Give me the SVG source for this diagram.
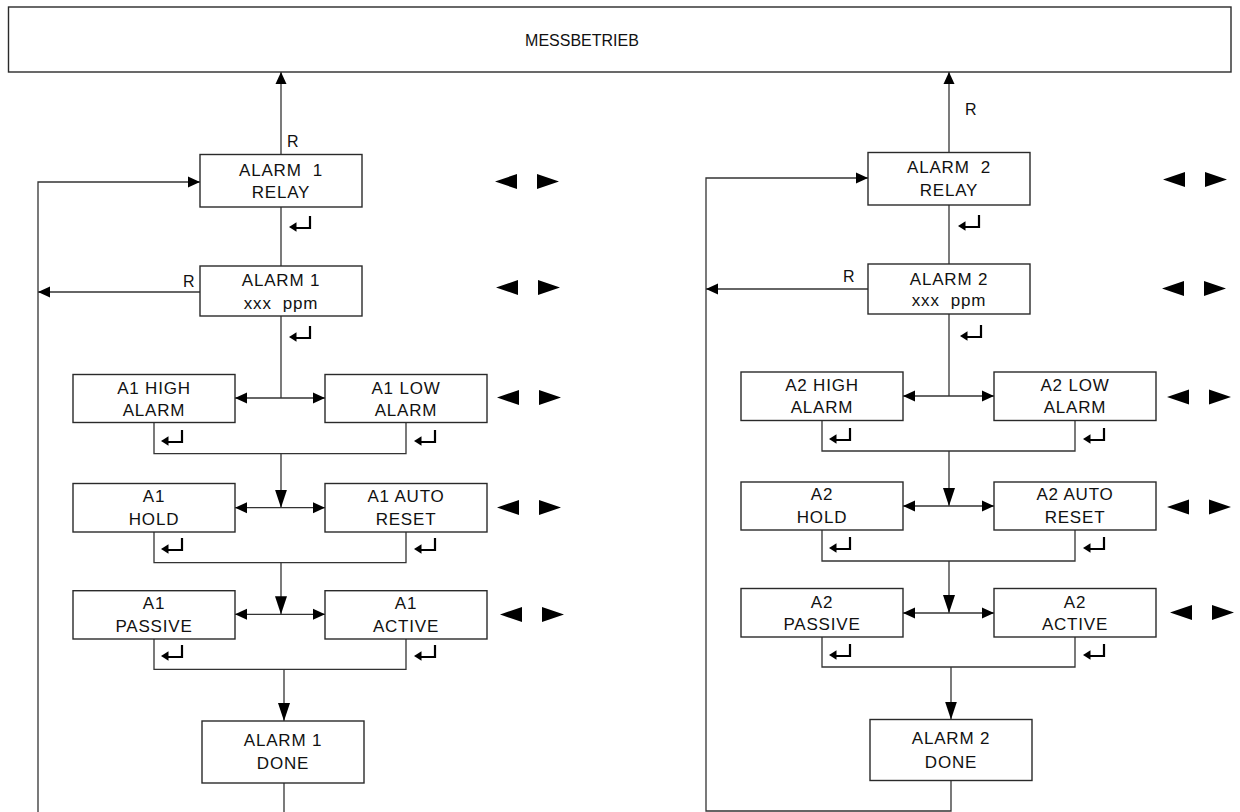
<svg xmlns="http://www.w3.org/2000/svg" xmlns:xlink="http://www.w3.org/1999/xlink" width="1240" height="812" viewBox="0 0 1240 812">
  <style>
    .box { fill: #ffffff; stroke: #2a2a2a; stroke-width: 1.4; }
    .t { font-family: "Liberation Sans", Arial, sans-serif; font-size: 17px; letter-spacing: 0.8px; text-anchor: middle; fill: #111111; white-space: pre; }
    .r { font-family: "Liberation Sans", Arial, sans-serif; font-size: 16px; fill: #111111; }
    .ln { fill: none; stroke: #333333; stroke-width: 1.3; }
    .a { marker-end: url(#ah); }
    .ad { marker-end: url(#ahL); }
  </style>
  <defs>
    <marker id="ah" markerUnits="userSpaceOnUse" markerWidth="12" markerHeight="12" refX="12" refY="6" orient="auto">
      <path d="M0,0.5 L12,6 L0,11.5 Z" fill="#000000"/>
    </marker>
    <marker id="ahL" markerUnits="userSpaceOnUse" markerWidth="18" markerHeight="13" refX="18" refY="6.5" orient="auto">
      <path d="M0,0.5 L18,6.5 L0,12.5 Z" fill="#000000"/>
    </marker>
    <!-- enter key symbol -->
    <g id="ret">
      <path d="M21,0 V12 H6" fill="none" stroke="#000000" stroke-width="2.2"/>
      <polygon points="0,11 7.5,6.3 7.5,15.7" fill="#000000"/>
    </g>
    <!-- left / right keys -->
    <g id="nav" fill="#000000">
      <polygon points="0,7.5 22,0 22,15"/>
      <polygon points="42,0 64,7.5 42,15"/>
    </g>
  </defs>

  <rect width="1240" height="812" fill="#ffffff"/>

  <g id="connectors">
    <!-- channel 1 -->
    <path class="ln a" d="M281,154.5 V72"/>
    <path class="ln" d="M281,207 V266"/>
    <path class="ln a" d="M200,292 H38"/>
    <path class="ln a" d="M38,812 V182 H200"/>
    <path class="ln" d="M281,316 V398"/>
    <path class="ln a" d="M281,398 H235"/>
    <path class="ln a" d="M281,398 H325"/>
    <path class="ln" d="M154,422.5 V453.7 H406 V422.5"/>
    <path class="ln ad" d="M281,453.7 V507.7"/>
    <path class="ln a" d="M281,507.7 H235"/>
    <path class="ln a" d="M281,507.7 H325"/>
    <path class="ln" d="M154,532 V562.7 H406 V532"/>
    <path class="ln ad" d="M281,562.7 V614.3"/>
    <path class="ln a" d="M281,614.3 H235"/>
    <path class="ln a" d="M281,614.3 H325"/>
    <path class="ln" d="M154,639 V669.3 H406 V639"/>
    <path class="ln ad" d="M284,669.3 V721"/>
    <path class="ln" d="M284,783 V812"/>
    <!-- channel 2 -->
    <path class="ln a" d="M949,152.5 V72"/>
    <path class="ln" d="M949,205 V264"/>
    <path class="ln a" d="M868,289 H706"/>
    <path class="ln a" d="M951,780.5 V811 H706 V178 H868"/>
    <path class="ln" d="M949,314 V396"/>
    <path class="ln a" d="M949,396 H903"/>
    <path class="ln a" d="M949,396 H994"/>
    <path class="ln" d="M822,420.5 V451 H1075 V420.5"/>
    <path class="ln ad" d="M949,451 V506"/>
    <path class="ln a" d="M949,506 H903"/>
    <path class="ln a" d="M949,506 H994"/>
    <path class="ln" d="M822,530 V561 H1075 V530"/>
    <path class="ln ad" d="M949,561 V613"/>
    <path class="ln a" d="M949,613 H903"/>
    <path class="ln a" d="M949,613 H994"/>
    <path class="ln" d="M822,637 V667 H1075 V637"/>
    <path class="ln ad" d="M951,667 V719.5"/>
  </g>

  <g id="labels">
    <text class="r" x="287" y="147">R</text>
    <text class="r" x="183" y="287">R</text>
    <text class="r" x="965" y="115">R</text>
    <text class="r" x="843" y="282">R</text>
  </g>

  <g id="messbetrieb">
    <rect class="box" x="8.5" y="7" width="1222.5" height="65"/>
    <text class="r" x="582" y="46" text-anchor="middle" font-size="16.5">MESSBETRIEB</text>
  </g>

  <!-- channel 1 nodes -->
  <g id="alarm1-relay">
    <rect class="box" x="200" y="154.5" width="162" height="52.5"/>
    <text class="t" x="281" y="176">ALARM  1</text>
    <text class="t" x="281" y="198">RELAY</text>
  </g>
  <g id="alarm1-ppm">
    <rect class="box" x="200" y="266" width="162" height="50"/>
    <text class="t" x="281" y="286">ALARM 1</text>
    <text class="t" x="281" y="309">xxx  ppm</text>
  </g>
  <g id="a1-high">
    <rect class="box" x="73" y="374.5" width="162" height="48"/>
    <text class="t" x="154" y="393.5">A1 HIGH</text>
    <text class="t" x="154" y="416">ALARM</text>
  </g>
  <g id="a1-low">
    <rect class="box" x="325" y="374.5" width="162" height="48"/>
    <text class="t" x="406" y="393.5">A1 LOW</text>
    <text class="t" x="406" y="416">ALARM</text>
  </g>
  <g id="a1-hold">
    <rect class="box" x="73" y="483.5" width="162" height="48.5"/>
    <text class="t" x="154" y="502">A1</text>
    <text class="t" x="154" y="524.5">HOLD</text>
  </g>
  <g id="a1-auto-reset">
    <rect class="box" x="325" y="483.5" width="162" height="48.5"/>
    <text class="t" x="406" y="502">A1 AUTO</text>
    <text class="t" x="406" y="524.5">RESET</text>
  </g>
  <g id="a1-passive">
    <rect class="box" x="73" y="590.7" width="162" height="48.3"/>
    <text class="t" x="154" y="608.5">A1</text>
    <text class="t" x="154" y="631.5">PASSIVE</text>
  </g>
  <g id="a1-active">
    <rect class="box" x="325" y="590.7" width="162" height="48.3"/>
    <text class="t" x="406" y="608.5">A1</text>
    <text class="t" x="406" y="631.5">ACTIVE</text>
  </g>
  <g id="alarm1-done">
    <rect class="box" x="202" y="721" width="162" height="62"/>
    <text class="t" x="283" y="746">ALARM 1</text>
    <text class="t" x="283" y="769">DONE</text>
  </g>

  <!-- channel 2 nodes -->
  <g id="alarm2-relay">
    <rect class="box" x="868" y="152.5" width="162" height="52.5"/>
    <text class="t" x="949" y="173">ALARM  2</text>
    <text class="t" x="949" y="196">RELAY</text>
  </g>
  <g id="alarm2-ppm">
    <rect class="box" x="868" y="264" width="162" height="50"/>
    <text class="t" x="949" y="284.5">ALARM 2</text>
    <text class="t" x="949" y="306">xxx  ppm</text>
  </g>
  <g id="a2-high">
    <rect class="box" x="741" y="372" width="162" height="48.5"/>
    <text class="t" x="822" y="391">A2 HIGH</text>
    <text class="t" x="822" y="413">ALARM</text>
  </g>
  <g id="a2-low">
    <rect class="box" x="994" y="372" width="162" height="48.5"/>
    <text class="t" x="1075" y="391">A2 LOW</text>
    <text class="t" x="1075" y="413">ALARM</text>
  </g>
  <g id="a2-hold">
    <rect class="box" x="741" y="482" width="162" height="48"/>
    <text class="t" x="822" y="500">A2</text>
    <text class="t" x="822" y="523">HOLD</text>
  </g>
  <g id="a2-auto-reset">
    <rect class="box" x="994" y="482" width="162" height="48"/>
    <text class="t" x="1075" y="500">A2 AUTO</text>
    <text class="t" x="1075" y="523">RESET</text>
  </g>
  <g id="a2-passive">
    <rect class="box" x="741" y="588.5" width="162" height="48.5"/>
    <text class="t" x="822" y="607.5">A2</text>
    <text class="t" x="822" y="629.5">PASSIVE</text>
  </g>
  <g id="a2-active">
    <rect class="box" x="994" y="588.5" width="162" height="48.5"/>
    <text class="t" x="1075" y="607.5">A2</text>
    <text class="t" x="1075" y="629.5">ACTIVE</text>
  </g>
  <g id="alarm2-done">
    <rect class="box" x="870" y="719.5" width="162" height="61"/>
    <text class="t" x="951" y="744">ALARM 2</text>
    <text class="t" x="951" y="767.5">DONE</text>
  </g>

  <g id="enter-keys">
    <use xlink:href="#ret" x="289" y="216"/>
    <use xlink:href="#ret" x="289" y="326"/>
    <use xlink:href="#ret" x="161" y="430"/>
    <use xlink:href="#ret" x="414" y="430"/>
    <use xlink:href="#ret" x="161" y="538"/>
    <use xlink:href="#ret" x="414" y="538"/>
    <use xlink:href="#ret" x="161" y="645"/>
    <use xlink:href="#ret" x="414" y="645"/>
    <use xlink:href="#ret" x="958" y="215"/>
    <use xlink:href="#ret" x="960" y="325"/>
    <use xlink:href="#ret" x="829" y="428"/>
    <use xlink:href="#ret" x="1083" y="428"/>
    <use xlink:href="#ret" x="829" y="537"/>
    <use xlink:href="#ret" x="1083" y="537"/>
    <use xlink:href="#ret" x="829" y="644"/>
    <use xlink:href="#ret" x="1083" y="644"/>
  </g>

  <g id="arrow-keys">
    <use xlink:href="#nav" x="495" y="174"/>
    <use xlink:href="#nav" x="496" y="280"/>
    <use xlink:href="#nav" x="497" y="390"/>
    <use xlink:href="#nav" x="497" y="500"/>
    <use xlink:href="#nav" x="500" y="607"/>
    <use xlink:href="#nav" x="1163" y="172"/>
    <use xlink:href="#nav" x="1162" y="281"/>
    <use xlink:href="#nav" x="1167" y="389.5"/>
    <use xlink:href="#nav" x="1167" y="499.5"/>
    <use xlink:href="#nav" x="1170" y="605"/>
  </g>
</svg>
